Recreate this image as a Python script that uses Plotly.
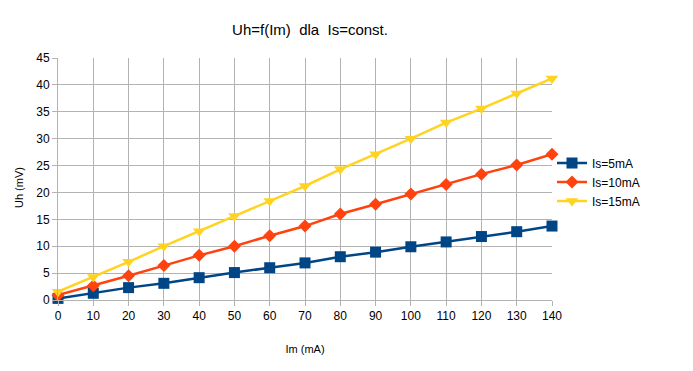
import plotly.graph_objects as go

im_ma = [0, 10, 20, 30, 40, 50, 60, 70, 80, 90, 100, 110, 120, 130, 140]
uh_5ma = [0.3, 1.25, 2.3, 3.1, 4.15, 5.1, 6.0, 6.9, 8.05, 8.9, 9.9, 10.8, 11.8, 12.7, 13.75]
uh_10ma = [0.9, 2.65, 4.5, 6.4, 8.3, 10.0, 11.95, 13.75, 16.0, 17.8, 19.7, 21.5, 23.4, 25.1, 27.1]
uh_15ma = [1.55, 4.3, 7.1, 10.0, 12.8, 15.6, 18.4, 21.2, 24.3, 27.1, 30.0, 33.0, 35.6, 38.4, 41.2]

series = [
    ("Is=5mA", uh_5ma, "#004586", "square", 11),
    ("Is=10mA", uh_10ma, "#ff420e", "diamond", 10),
    ("Is=15mA", uh_15ma, "#ffd320", "triangle-down", 11),
]

fig = go.Figure()
for name, vals, color, sym, size in series:
    fig.add_trace(go.Scatter(
        x=im_ma, y=vals, name=name, mode="lines+markers",
        line=dict(color=color, width=2.5),
        marker=dict(symbol=sym, size=size, color=color),
    ))

font = "Liberation Sans, Arial, sans-serif"
W, H = 685, 363
L, R, T, B = 50, 141, 50, 71
pw, ph = W - L - R, H - T - B
fig.update_layout(
    width=W, height=H,
    margin=dict(l=L, r=R, t=T, b=B),
    paper_bgcolor="white", plot_bgcolor="white",
    font=dict(family=font, size=12, color="#000000"),
    title=dict(text="Uh=f(Im)  dla  Is=const.", x=302 / W, xanchor="center",
               y=1 - 22 / H, yanchor="middle", font=dict(size=15)),
    showlegend=True,
    legend=dict(x=1.0, xanchor="left", y=0.488, yanchor="middle",
                font=dict(size=12), tracegroupgap=0, itemwidth=30,
                bgcolor="rgba(0,0,0,0)"),
    xaxis=dict(range=[0, 140], dtick=10, tick0=0, showgrid=True, gridcolor="#b3b3b3",
               gridwidth=1, showline=True, linecolor="#b3b3b3", ticks="outside",
               ticklen=5, tickcolor="#b3b3b3", zeroline=False,
               title=dict(text="Im (mA)", font=dict(size=11), standoff=22),
               tickfont=dict(size=12)),
    yaxis=dict(range=[0, 45], dtick=5, tick0=0, showgrid=True, gridcolor="#b3b3b3",
               gridwidth=1, showline=True, linecolor="#b3b3b3", ticks="outside",
               ticklen=5, tickcolor="#b3b3b3", zeroline=False,
               tickfont=dict(size=12)),
    annotations=[dict(text="Uh (mV)", textangle=-90, showarrow=False,
                      xref="paper", yref="paper",
                      x=(3 - L) / pw, y=(T + ph - 180) / ph,
                      xanchor="left", yanchor="middle",
                      font=dict(size=11))],
)
fig.update_traces(cliponaxis=False)

fig.write_html("out.html")
